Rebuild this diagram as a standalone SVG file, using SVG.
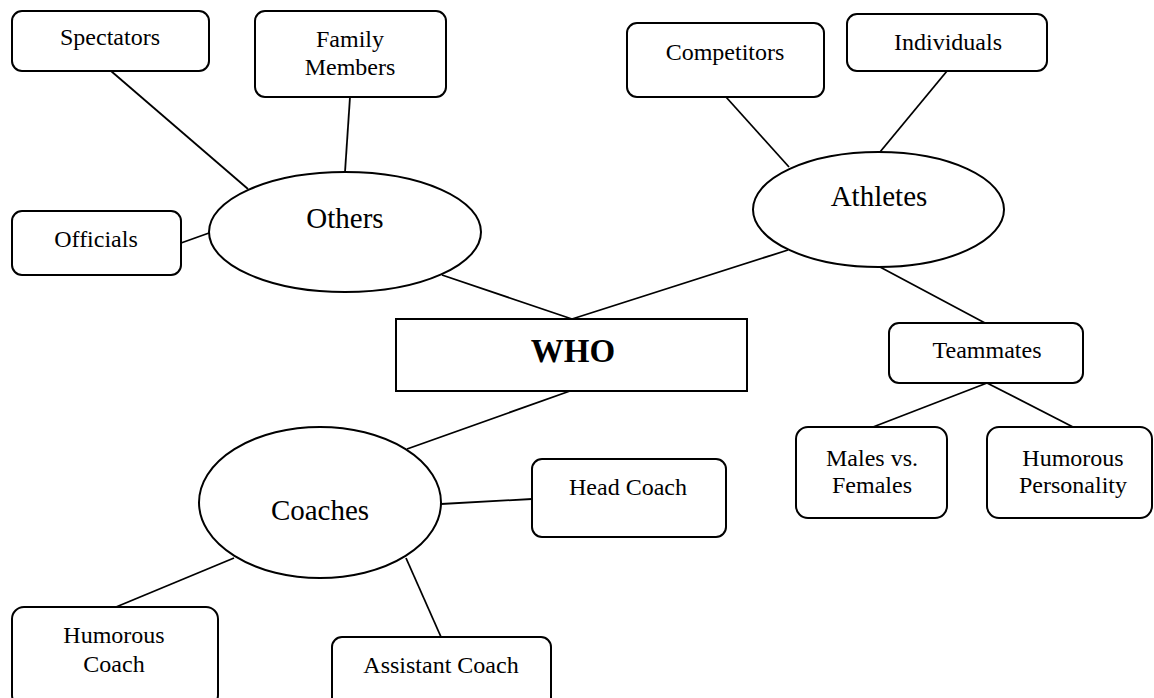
<svg xmlns="http://www.w3.org/2000/svg" width="1154" height="698" viewBox="0 0 1154 698">
<style>
.box{fill:#fff;stroke:#000;stroke-width:2}
.ell{fill:#fff;stroke:#000;stroke-width:2}
.t{font-family:"Liberation Serif","Times New Roman",serif;font-size:24px;fill:#000;text-anchor:middle}
.te{font-family:"Liberation Serif","Times New Roman",serif;font-size:29px;fill:#000;text-anchor:middle}
.tw{font-family:"Liberation Serif","Times New Roman",serif;font-size:33px;font-weight:bold;fill:#000;text-anchor:middle}
#connectors line{stroke:#000;stroke-width:1.8}
</style>
<rect width="1154" height="698" fill="#fff"/>
<g id="connectors">
<line x1="111" y1="71" x2="248" y2="189"/>
<line x1="350" y1="97" x2="345" y2="172"/>
<line x1="181" y1="243" x2="209" y2="233"/>
<line x1="442" y1="275" x2="572" y2="319"/>
<line x1="572" y1="319" x2="788" y2="250"/>
<line x1="726" y1="97" x2="789" y2="167"/>
<line x1="947" y1="71" x2="880" y2="152"/>
<line x1="880" y1="267" x2="985" y2="323"/>
<line x1="987" y1="383" x2="873" y2="427"/>
<line x1="987" y1="383" x2="1073" y2="427"/>
<line x1="570" y1="391" x2="407" y2="449"/>
<line x1="441" y1="504" x2="532" y2="499"/>
<line x1="234" y1="558" x2="116" y2="607"/>
<line x1="406" y1="558" x2="441" y2="637"/>
</g>
<g id="spectators"><rect class="box" x="12" y="11" width="197" height="60" rx="10"/><text class="t" x="110" y="45">Spectators</text></g>
<g id="family"><rect class="box" x="255" y="11" width="191" height="86" rx="10"/><text class="t" x="350" y="47">Family</text><text class="t" x="350" y="75">Members</text></g>
<g id="officials"><rect class="box" x="12" y="211" width="169" height="64" rx="10"/><text class="t" x="96" y="247">Officials</text></g>
<g id="others"><ellipse class="ell" cx="345" cy="232" rx="136" ry="60"/><text class="te" x="345" y="228">Others</text></g>
<g id="competitors"><rect class="box" x="627" y="23" width="197" height="74" rx="10"/><text class="t" x="725" y="60">Competitors</text></g>
<g id="individuals"><rect class="box" x="847" y="14" width="200" height="57" rx="10"/><text class="t" x="948" y="50">Individuals</text></g>
<g id="athletes"><ellipse class="ell" cx="878.5" cy="209.5" rx="125.5" ry="57.5"/><text class="te" x="879" y="206">Athletes</text></g>
<g id="who"><rect class="box" x="396" y="319" width="351" height="72"/><text class="tw" x="573" y="362">WHO</text></g>
<g id="teammates"><rect class="box" x="889" y="323" width="194" height="60" rx="10"/><text class="t" x="987" y="358">Teammates</text></g>
<g id="males"><rect class="box" x="796" y="427" width="151" height="91" rx="12"/><text class="t" x="872" y="466">Males vs.</text><text class="t" x="872" y="493">Females</text></g>
<g id="humorous-personality"><rect class="box" x="987" y="427" width="165" height="91" rx="12"/><text class="t" x="1073" y="466">Humorous</text><text class="t" x="1073" y="493">Personality</text></g>
<g id="coaches"><ellipse class="ell" cx="320" cy="502.5" rx="121" ry="75.5"/><text class="te" x="320" y="520">Coaches</text></g>
<g id="head-coach"><rect class="box" x="532" y="459" width="194" height="78" rx="10"/><text class="t" x="628" y="495">Head Coach</text></g>
<g id="humorous-coach"><rect class="box" x="12" y="607" width="206" height="100" rx="12"/><text class="t" x="114" y="643">Humorous</text><text class="t" x="114" y="672">Coach</text></g>
<g id="assistant-coach"><rect class="box" x="332" y="637" width="219" height="70" rx="10"/><text class="t" x="441" y="673">Assistant Coach</text></g>
</svg>
